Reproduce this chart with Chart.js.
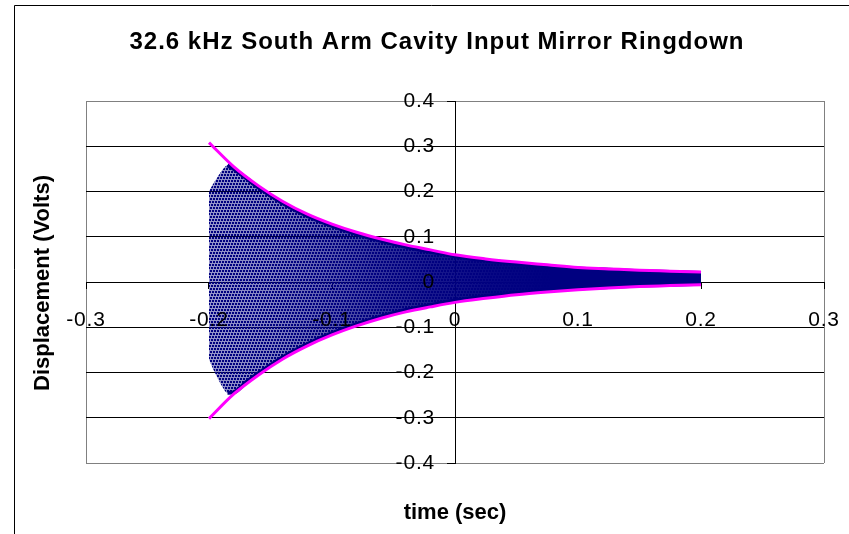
<!DOCTYPE html>
<html>
<head>
<meta charset="utf-8">
<script src="https://cdn.jsdelivr.net/npm/chart.js@4/dist/chart.umd.min.js"></script>
<style>
html,body{margin:0;padding:0;background:#fff;}
#wrap{width:849px;height:534px;position:relative;}
</style>
</head>
<body>
<div id="wrap"><canvas id="c" width="849" height="534"></canvas></div>
<script>
// ---- text ----
const titleText = '32.6 kHz South Arm Cavity Input Mirror Ringdown';
const xTitleText = 'time (sec)';
const yTitleText = 'Displacement (Volts)';

// ---- tick labels ----
const xTicks = [-0.3, -0.2, -0.1, 0, 0.1, 0.2, 0.3];
const yTicks = [-0.4, -0.3, -0.2, -0.1, 0, 0.1, 0.2, 0.3, 0.4];

// ---- magenta envelope curves ----
const envX     = [-0.2, -0.18, -0.16, -0.14, -0.12, -0.1, -0.08, -0.06, -0.04, -0.02, 0, 0.025, 0.05, 0.075, 0.1, 0.125, 0.15, 0.175, 0.2];
const envUpper = [0.308, 0.255, 0.213, 0.178, 0.150, 0.128, 0.110, 0.095, 0.082, 0.071, 0.060, 0.051, 0.044, 0.038, 0.032, 0.029, 0.026, 0.024, 0.022];
const envLower = [-0.302, -0.248, -0.206, -0.170, -0.141, -0.117, -0.097, -0.080, -0.066, -0.055, -0.045, -0.036, -0.028, -0.022, -0.017, -0.013, -0.010, -0.008, -0.006];

// ---- extent of the dense ringdown scatter cloud ----
const cloudX      = [-0.2, -0.197, -0.193, -0.189, -0.185, -0.18, -0.17, -0.16, -0.14, -0.12, -0.1, -0.08, -0.06, -0.04, -0.02, 0, 0.025, 0.05, 0.075, 0.1, 0.125, 0.15, 0.175, 0.2];
const cloudTop    = [0.200, 0.215, 0.232, 0.248, 0.258, 0.250, 0.230, 0.209, 0.174, 0.146, 0.124, 0.106, 0.091, 0.078, 0.067, 0.057, 0.048, 0.041, 0.035, 0.030, 0.027, 0.024, 0.022, 0.020];
const cloudBottom = [-0.170, -0.190, -0.212, -0.232, -0.245, -0.244, -0.222, -0.202, -0.166, -0.137, -0.113, -0.093, -0.076, -0.062, -0.051, -0.041, -0.032, -0.025, -0.019, -0.014, -0.011, -0.008, -0.006, -0.004];
const denseEdgeFrom = 4;   // index in cloudX from which the cloud edge is dense

// ---- style: how solid the dot cloud looks along time ----
const densityStopX = [-0.2, -0.15, -0.1, -0.06, -0.02, 0.03, 0.08];
const densityAlpha = [0.42, 0.5, 0.66, 0.8, 0.9, 0.97, 1];

const NAVY = '#000080';
const MAGENTA = '#FF00FF';
const FONT = '"Liberation Sans", Arial, sans-serif';

function pts(xs, ys) { return xs.map((x, i) => ({x: x, y: ys[i]})); }
function near(a, b) { return Math.abs(a - b) < 1e-9; }
function fmt(v) { return String(Number(v.toFixed(1))); }

function makeCloudFill(chart) {
  const xs = chart.scales.x;
  const cv = document.createElement('canvas');
  cv.width = chart.width; cv.height = chart.height;
  const g = cv.getContext('2d');
  const x0 = xs.getPixelForValue(densityStopX[0]);
  const x1 = xs.getPixelForValue(densityStopX[densityStopX.length - 1]);
  const grad = g.createLinearGradient(x0, 0, x1, 0);
  densityStopX.forEach((v, i) => {
    grad.addColorStop((xs.getPixelForValue(v) - x0) / (x1 - x0), 'rgba(0,0,128,' + densityAlpha[i] + ')');
  });
  g.fillStyle = grad;
  g.fillRect(0, 0, cv.width, cv.height);
  g.fillStyle = NAVY;
  for (let y = 0, r = 0; y < cv.height; y += 3, r++) {
    const off = (r * 2) % 3;
    for (let x = off; x < cv.width; x += 3) g.fillRect(x, y, 2, 2);
  }
  return g.createPattern(cv, 'no-repeat');
}

function cloudFill(ctx) {
  const ch = ctx.chart;
  if (!ch.chartArea || !ch.scales || !ch.scales.x) return 'rgba(0,0,128,0.7)';
  if (!ch.$cloudFill) ch.$cloudFill = makeCloudFill(ch);
  return ch.$cloudFill;
}

const decor = {
  id: 'decor',
  beforeDraw(chart) {
    const ctx = chart.ctx;
    ctx.save();
    ctx.fillStyle = '#fff';
    ctx.fillRect(0, 0, chart.width, chart.height);
    ctx.strokeStyle = '#000';
    ctx.lineWidth = 1;
    ctx.beginPath();
    ctx.moveTo(14.5, chart.height);
    ctx.lineTo(14.5, 5.5);
    ctx.lineTo(chart.width, 5.5);
    ctx.stroke();
    ctx.restore();
    // y labels of a crossing axis: place them left of the tick marks
    const ys = chart.scales.y;
    const items = ys.getLabelItems(chart.chartArea);
    if (items && !items.$shifted) {
      const off = ys.options.grid.tickLength + ys.options.ticks.padding;
      items.forEach(it => { it.options.translation[0] -= off; });
      items.$shifted = true;
    }
    try { ctx.letterSpacing = '0.8px'; } catch (e) {}
  },
  afterDraw(chart) {
    const ctx = chart.ctx;
    ctx.save();
    ctx.fillStyle = '#000';
    try { ctx.letterSpacing = '1px'; } catch (e) {}
    ctx.font = 'bold 24px ' + FONT;
    ctx.textAlign = 'center';
    ctx.textBaseline = 'alphabetic';
    ctx.fillText(titleText, 437, 49);
    try { ctx.letterSpacing = '0px'; } catch (e) {}
    ctx.font = 'bold 22px ' + FONT;
    ctx.fillText(xTitleText, 455, 519);
    ctx.translate(49, 283);
    ctx.rotate(-Math.PI / 2);
    ctx.fillText(yTitleText, 0, 0);
    ctx.restore();
  }
};

const tickFont = {family: FONT, size: 21};
const lineBase = {pointRadius: 0, cubicInterpolationMode: 'monotone'};

new Chart(document.getElementById('c'), {
  type: 'line',
  data: {
    datasets: [
      Object.assign({label: 'upper envelope', data: pts(envX, envUpper),
        borderColor: MAGENTA, borderWidth: 3, fill: false, order: 0}, lineBase),
      Object.assign({label: 'lower envelope', data: pts(envX, envLower),
        borderColor: MAGENTA, borderWidth: 3, fill: false, order: 0}, lineBase),
      Object.assign({label: 'ringdown', data: pts(cloudX, cloudTop),
        borderColor: 'rgba(0,0,128,0)', borderWidth: 0,
        backgroundColor: cloudFill, fill: '+1', order: 2}, lineBase),
      Object.assign({label: 'ringdown lower', data: pts(cloudX, cloudBottom),
        borderColor: 'rgba(0,0,128,0)', borderWidth: 0, fill: false, order: 2}, lineBase),
      Object.assign({label: 'ringdown dense top edge',
        data: pts(cloudX.slice(denseEdgeFrom), cloudTop.slice(denseEdgeFrom)),
        borderColor: NAVY, borderWidth: 4, fill: false, order: 1}, lineBase),
      Object.assign({label: 'ringdown dense bottom edge',
        data: pts(cloudX.slice(denseEdgeFrom), cloudBottom.slice(denseEdgeFrom)),
        borderColor: NAVY, borderWidth: 4, fill: false, order: 1}, lineBase)
    ]
  },
  options: {
    responsive: false,
    animation: false,
    layout: {padding: {left: 86, top: 101, right: 25, bottom: 71}},
    plugins: {legend: {display: false}, tooltip: {enabled: false}, title: {display: false}},
    scales: {
      x: {
        type: 'linear',
        position: {y: 0},
        min: -0.3, max: 0.3,
        afterBuildTicks: s => { s.ticks = xTicks.map(v => ({value: v})); },
        afterFit: s => { s.paddingLeft = 0; s.paddingRight = 0; },
        ticks: {callback: v => fmt(v), font: tickFont, color: '#000', padding: 20, z: 1, maxRotation: 0, autoSkip: false},
        grid: {
          color: c => (c.tick && near(Math.abs(c.tick.value), 0.3)) ? '#808080' : 'rgba(0,0,0,0)',
          tickColor: '#000', tickLength: 6, lineWidth: 1, drawOnChartArea: true
        },
        border: {color: '#000', width: 1}
      },
      y: {
        type: 'linear',
        position: {x: 0},
        min: -0.4, max: 0.4,
        afterBuildTicks: s => { s.ticks = yTicks.map(v => ({value: v})); },
        afterFit: s => { s.paddingTop = 0; s.paddingBottom = 0; },
        ticks: {callback: v => fmt(v), font: tickFont, color: '#000', padding: 12, z: 1, autoSkip: false},
        grid: {
          color: c => (c.tick && near(Math.abs(c.tick.value), 0.4)) ? '#808080' : '#000',
          tickColor: '#000', tickLength: 8, lineWidth: 1
        },
        border: {color: '#000', width: 1}
      }
    }
  },
  plugins: [decor]
});
</script>
</body>
</html>
